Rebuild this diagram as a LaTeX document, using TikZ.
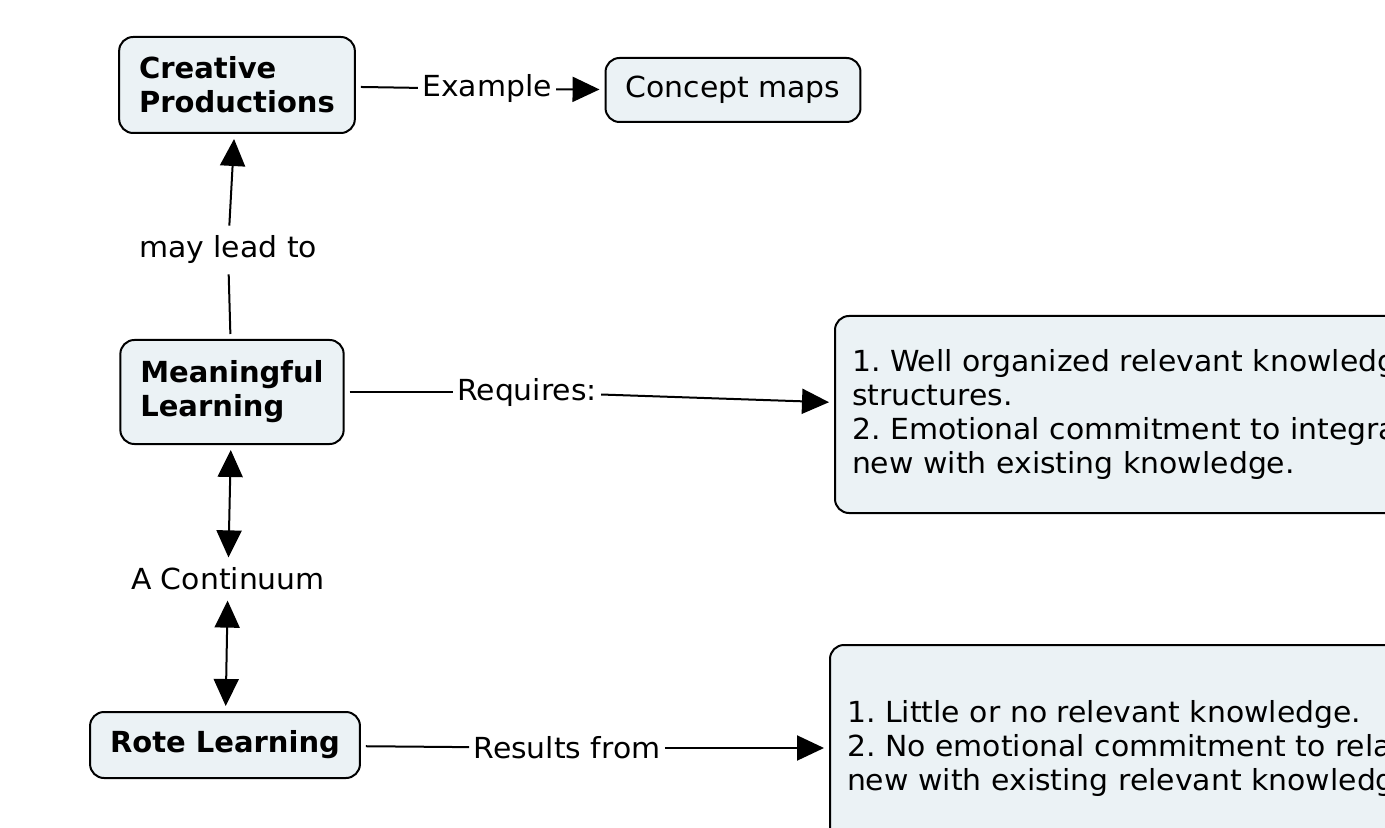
\documentclass[tikz,border=0pt]{standalone}
\usepackage{fontspec}
\setmainfont{DejaVu Sans}[UprightFeatures={FakeStretch=1.03}]
\usetikzlibrary{arrows.meta}
\definecolor{cmapfill}{RGB}{235,242,245}
\def\conceptnode{\node[concept]}
\def\linknode{\node[linklabel]}
\frenchspacing

\begin{document}
\begin{tikzpicture}[x=0.5pt,y=-0.5pt,
  concept/.style={draw,line width=1pt,fill=cmapfill,rounded corners=7pt,
    inner xsep=10pt,inner ysep=6pt,align=left,outer sep=3pt,
    font=\fontsize{14.5}{17}\selectfont},
  boldconcept/.style={concept,font=\fontsize{14.5}{17}\selectfont\bfseries},
  linklabel/.style={inner xsep=2pt,inner ysep=5pt,font=\fontsize{14.5}{17}\selectfont},
  link/.style={line width=1pt},
  linkarrow/.style={-{Triangle[length=13.5pt,width=12.5pt]}},
  linkboth/.style={{Triangle[length=13.5pt,width=12.5pt]}-{Triangle[length=13.5pt,width=12.5pt]}}]
\useasboundingbox (0,0) rectangle (1385,828);
\clip (0,0) rectangle (1385,828);
\node[boldconcept,minimum height=48pt] (cp) at (237,85) {Creative\\Productions};
\conceptnode[minimum height=32pt] (maps) at (733,90) {Concept maps};
\node[boldconcept,minimum height=52pt] (ml) at (232,392) {Meaningful\\Learning};
\node[boldconcept,minimum height=33pt] (rote) at (225,745) {Rote Learning};
\conceptnode[anchor=west,text width=340pt,inner xsep=8.5pt,minimum height=98.5pt] (know1) at (829,414.5)
  {1. Well organized relevant knowledge\\structures.\\2. Emotional commitment to integrate\\new with existing knowledge.};
\conceptnode[anchor=west,text width=340pt,inner xsep=8.5pt,minimum height=103pt] (know2) at (824,748)
  {1. Little or no relevant knowledge.\\2. No emotional commitment to relate\\new with existing relevant knowledge.};
\linknode (ex) at (487,89) {Example};
\linknode (lead) at (228,250) {may lead to};
\linknode (req) at (527,392) {Requires:};
\linknode (cont) at (228,579) {A Continuum};
\linknode (res) at (567,748) {Results from};
\draw[link] (cp) -- (ex);
\draw[link,linkarrow] (ex) -- (maps);
\draw[link] (ml) -- (lead);
\draw[link,linkarrow] (lead) -- (cp);
\draw[link] (ml) -- (req);
\draw[link,linkarrow] (req) -- (know1);
\draw[link,linkboth] (ml) -- (cont);
\draw[link,linkboth] (cont) -- (rote);
\draw[link] (rote) -- (res);
\draw[link,linkarrow] (res) -- (know2);
\end{tikzpicture}
\end{document}
